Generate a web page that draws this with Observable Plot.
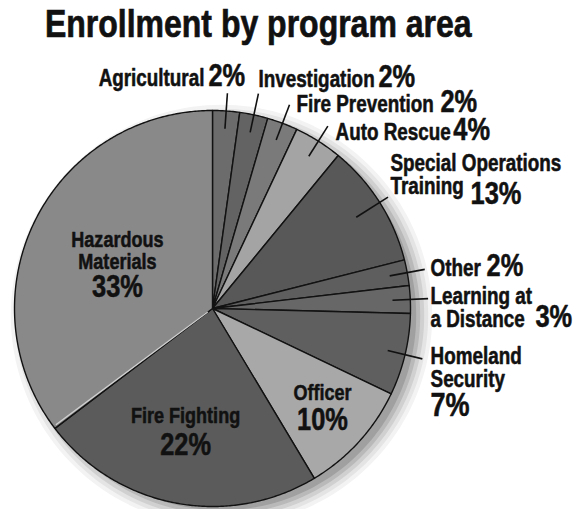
<!DOCTYPE html>
<html><head><meta charset="utf-8">
<script src="https://cdn.jsdelivr.net/npm/d3@7"></script>
<script src="https://cdn.jsdelivr.net/npm/@observablehq/plot@0.6"></script>
<style>
html,body{margin:0;padding:0;background:#fff;}
#wrap{width:577px;height:509px;position:relative;overflow:hidden;background:#fff;}
#title{font-family:"Liberation Sans",Arial,sans-serif;font-weight:bold;font-size:39px;line-height:39px;height:50px;box-sizing:border-box;padding:4px 0 0 45px;color:#111;white-space:nowrap;-webkit-text-stroke:0.7px #111;}
#title span{display:inline-block;transform:scaleX(0.82);transform-origin:0 0;}
#chart svg{display:block;overflow:visible;}
</style></head><body>
<div id="wrap"><div id="title"><span>Enrollment by program area</span></div><div id="chart"></div></div>
<script>
// ---- data ----
const programs = ["Agricultural", "Investigation", "Fire Prevention", "Auto Rescue",
  "Special Operations Training", "Other", "Learning at a Distance", "Homeland Security",
  "Officer", "Fire Fighting", "Hazardous Materials"];
// share of the pie as drawn (% of the circle, measured from slice angles)
const drawnShare = [2.2, 2.3, 2.5, 3.95, 10.1, 2.1, 2.25, 6.7, 9.3, 23.25, 35.35];
// percentages printed on the chart
const printedPct = [2, 2, 2, 4, 13, 2, 3, 7, 10, 22, 33];
// label text as broken on the chart
const labelLines = ["Agricultural", "Investigation", "Fire Prevention", "Auto Rescue",
  "Special Operations\nTraining", "Other", "Learning at\na Distance", "Homeland\nSecurity",
  "Officer", "Fire Fighting", "Hazardous\nMaterials"];

// ---- layout & style ----
const W = 577, H = 459, CX = 212, CY = 258, R = 198;
const shades = ["#6c6c6c", "#636363", "#7a7a7a", "#a4a4a4", "#585858", "#5e5e5e",
  "#676767", "#5f5f5f", "#a8a8a8", "#5b5b5b", "#898989"];
const FONT = '"Liberation Sans",Arial,sans-serif';
const SQUEEZE = 0.82; // condensed type
const layout = [
  {side:"out", rIn:.91, rOut:1.09, anchor:"end",   dx:-23,  dy:-6.7, pdx:-19,   pdy:-6.7, ps:31},
  {side:"out", rIn:.91, rOut:1.11, anchor:"start", dx:0,    dy:-7,   pdx:120,   pdy:-7,   ps:31},
  {side:"out", rIn:.91, rOut:1.10, anchor:"start", dx:7,    dy:7.7,  pdx:151,   pdy:7.7,  ps:31},
  {side:"out", rIn:.91, rOut:1.09, anchor:"start", dx:7.7,  dy:14.4, pdx:125.5, pdy:14.4, ps:31},
  {side:"out", rIn:.86, rOut:1.05, anchor:"start", dx:2.5,  dy:-3.6, pdx:82.5,  pdy:6.4,  ps:31},
  {side:"out", rIn:.91, rOut:1.09, anchor:"start", dx:5.8,  dy:7.1,  pdx:61.8,  pdy:7.1,  ps:31},
  {side:"out", rIn:.91, rOut:1.09, anchor:"start", dx:2.4,  dy:28.8, pdx:107.4, pdy:28.8, ps:31},
  {side:"out", rIn:.91, rOut:1.09, anchor:"start", dx:8.2,  dy:28.6, pdx:8.2,   pdy:57.6, ps:33},
  {side:"in",  r:.751, dy:-8.1,  pdy:21.9, ps:31},
  {side:"in",  r:.72,  dy:-25.3, pdy:6.7,  ps:31},
  {side:"in",  r:.536, dy:8.1,   pdy:36.1, ps:31}
];
// soft shadow: graded solid discs, outermost first (px beyond radius, grey), offset in px
const shadowRings = [
  {g: 16, c: "#f3f3f3"}, {g: 12, c: "#e4e4e4"}, {g: 8, c: "#d0d0d0"},
  {g: 4, c: "#b9b9b9"}, {g: 0, c: "#a0a0a0"}
];
const SHX = 9, SHY = 7;

// ---- geometry from data ----
const total = d3.sum(drawnShare);
let acc = 0;
const slices = programs.map((name, i) => {
  const a0 = acc / total * 2 * Math.PI; acc += drawnShare[i];
  const a1 = acc / total * 2 * Math.PI;
  return {i, name, a0, a1, mid: (a0 + a1) / 2, color: shades[i],
    label: labelLines[i], pct: printedPct[i] + "%", L: layout[i]};
});
const px = (a, r) => r * Math.sin(a), py = (a, r) => r * Math.cos(a);

// shadow discs first, then the slices, in one polygon table
const shadowPts = shadowRings.flatMap((ring, j) => d3.range(0, 361, 2).map(deg => {
  const a = deg * Math.PI / 180, rr = (R - 4 + ring.g) / R;
  return {name: "shadow" + j, color: ring.c, x: px(a, rr) + SHX / R, y: py(a, rr) - SHY / R, edge: ring.c};
}));
const slicePts = slices.flatMap(s => {
  const n = Math.max(2, Math.ceil((s.a1 - s.a0) / (Math.PI / 360)));
  const pts = [{name: s.name, color: s.color, x: 0, y: 0, edge: "#121212"}];
  for (let k = 0; k <= n; k++) {
    const a = s.a0 + (s.a1 - s.a0) * k / n;
    pts.push({name: s.name, color: s.color, x: px(a, 1), y: py(a, 1), edge: "#121212"});
  }
  pts.push({name: s.name, color: s.color, x: 0, y: 0, edge: "#121212"});
  return pts;
});
const poly = shadowPts.concat(slicePts);

const outS = slices.filter(s => s.L.side === "out");
const labels = slices.map(s => {
  const r = s.L.side === "out" ? s.L.rOut : s.L.r;
  return {...s, x: px(s.mid, r), y: py(s.mid, r)};
});
// light bevel along the big slice's lower edge
const haz = slices[slices.length - 1];
const bevel = [{a: haz.a0 + 0.012}];

const txt = {x: "x", y: "y", fontFamily: FONT, fontWeight: "bold", fill: "#111",
  stroke: "#111", strokeWidth: 0.55, lineAnchor: "bottom"};
const nameMarks = labels.map(d => Plot.text([d], {...txt, text: "label",
  textAnchor: d.L.side === "in" ? "middle" : d.L.anchor,
  fontSize: d.L.side === "in" ? 22 : 23, lineHeight: 1.0,
  dx: d.L.side === "in" ? 0 : d.L.dx, dy: d.L.dy}));
const pctMarks = labels.map(d => Plot.text([d], {...txt, text: "pct",
  textAnchor: d.L.side === "in" ? "middle" : "start",
  fontSize: d.L.ps, dx: d.L.side === "in" ? 0 : d.L.pdx, dy: d.L.pdy}));

const chart = Plot.plot({
  width: W, height: H, margin: 0,
  x: {domain: [-CX / R, (W - CX) / R], axis: null},
  y: {domain: [-(H - CY) / R, CY / R], axis: null},
  color: {type: "identity"},
  marks: [
    Plot.line(poly, {x: "x", y: "y", z: "name", fill: "color", stroke: "edge", strokeWidth: 1.4, strokeLinejoin: "round"}),
    Plot.link(bevel, {x1: d => px(d.a, 0.03), y1: d => py(d.a, 0.03), x2: d => px(d.a, 0.985), y2: d => py(d.a, 0.985),
      stroke: "#d0d0d0", strokeWidth: 1.3}),
    Plot.link(outS, {
      x1: s => px(s.mid, s.L.rIn), y1: s => py(s.mid, s.L.rIn),
      x2: s => px(s.mid, s.L.rOut), y2: s => py(s.mid, s.L.rOut),
      stroke: "#111", strokeWidth: 1.6
    }),
    ...nameMarks,
    ...pctMarks
  ]
});

// condensed lettering: squeeze each label horizontally about its anchor
chart.querySelectorAll('g[aria-label="text"] text').forEach(t => {
  let tr = t.getAttribute("transform");
  if (!tr) {
    const x = +(t.getAttribute("x") || 0), y = +(t.getAttribute("y") || 0);
    t.removeAttribute("x"); t.removeAttribute("y");
    tr = `translate(${x},${y})`;
  }
  t.setAttribute("transform", tr + ` scale(${SQUEEZE},1)`);
});
document.getElementById("chart").appendChild(chart);
</script>
</body></html>
